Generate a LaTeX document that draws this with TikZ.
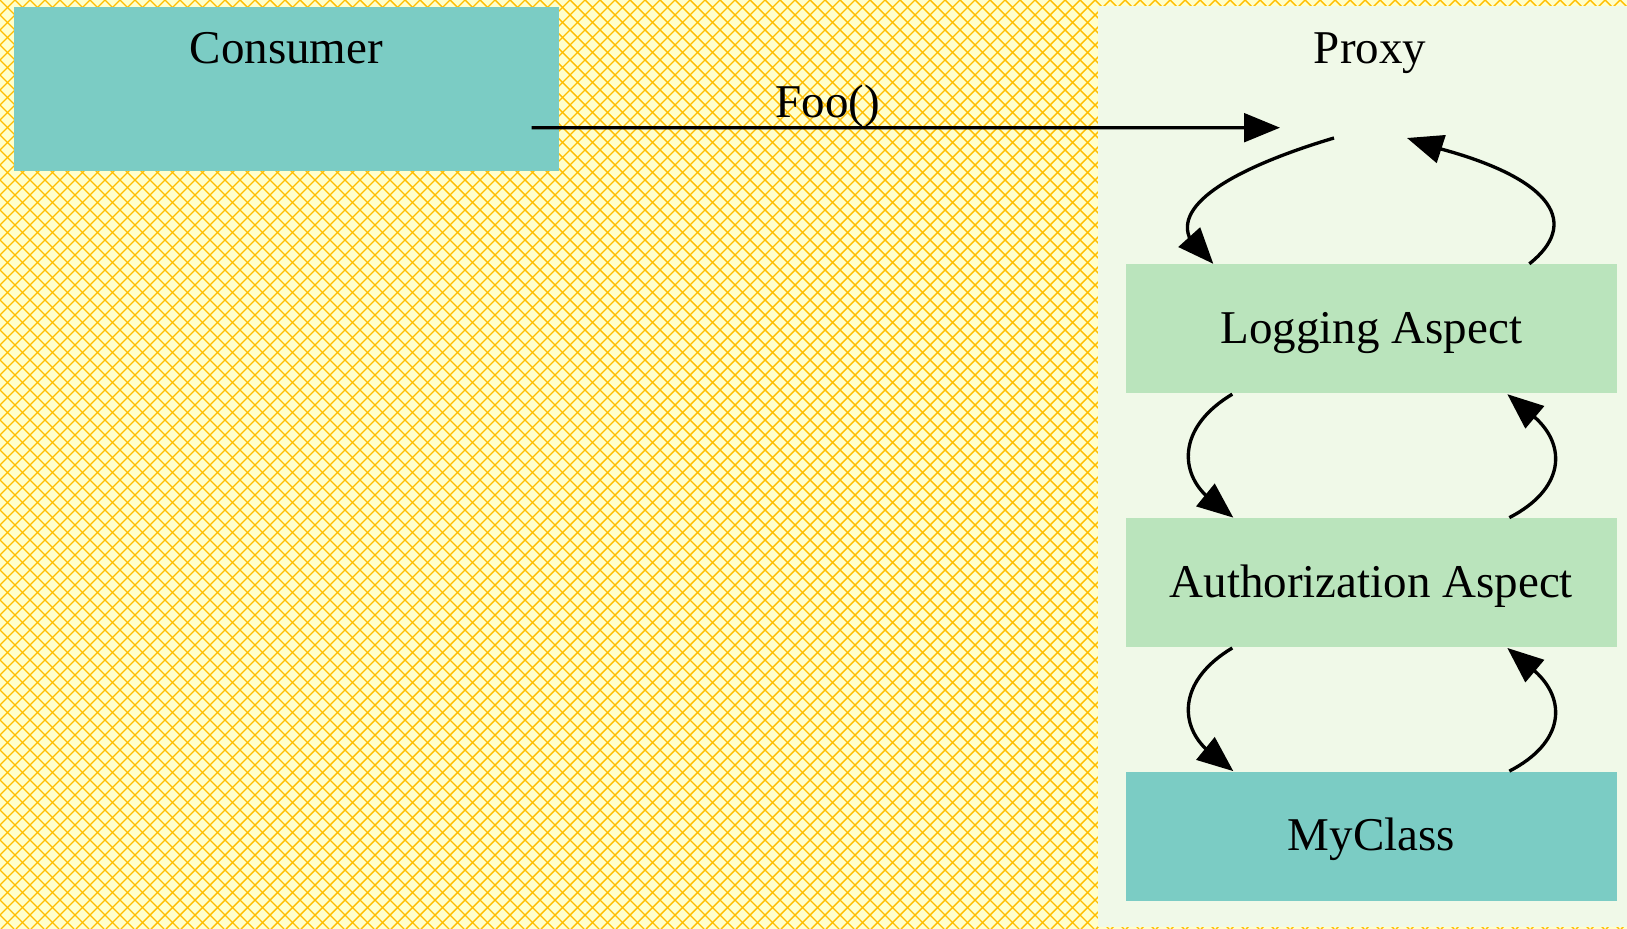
\documentclass[tikz,border=0pt]{standalone}
\usepackage{fontspec}
\setmainfont{Liberation Serif}
\usetikzlibrary{arrows.meta,calc}

% GnBu palette and the hatched background colours
\definecolor{gnbuA}{HTML}{F0F9E8}
\definecolor{gnbuB}{HTML}{BAE4BC}
\definecolor{gnbuC}{HTML}{7BCCC4}
\definecolor{hatchpaper}{HTML}{FFFFCC}
\definecolor{hatchink}{RGB}{255,190,0}

\newcommand\diagfont{\fontsize{14.1pt}{17pt}\selectfont}

\tikzset{
  cluster/.style={rectangle, inner sep=0pt, draw=none},
  lbl/.style={inner sep=0pt, font=\diagfont},
  box/.style={rectangle, inner sep=0pt, draw=none,
    minimum width=147.2pt, minimum height=38.7pt,
    text height=8.7pt, text depth=0pt, font=\diagfont},
  edge/.style={line width=1pt, -{Triangle[length=10.8pt,width=8.6pt]}},
  hatch/.style={draw=hatchink, line width=0.42pt},
}

\begin{document}
% one unit = one pixel of a 1627 x 929 canvas, y growing downwards
\begin{tikzpicture}[x=0.3pt, y=-0.3pt]
\useasboundingbox (0,0) rectangle (1627,929);

% cross-hatched background
\fill[hatchpaper] (0,0) rectangle (1627,929);
\begin{scope}
  \clip (0,0) rectangle (1627,929);
  \draw[hatch] \foreach \k in {-62,...,109} { (15*\k,0) -- ++(929,929) };
  \draw[hatch] \foreach \k in {0,...,171} { (15*\k,0) -- ++(-929,929) };
\end{scope}

% clusters
\node[cluster, fill=gnbuC, minimum width=163.74pt, minimum height=49.17pt]
  (consumer) at (286.4,89.25) {};
\node[lbl, anchor=base] (consumerlabel) at (286.4,63.5) {Consumer};

\node[cluster, fill=gnbuA, minimum width=158.7pt, minimum height=276.3pt]
  (proxy) at (1362.5,466.5) {};
\node[lbl, anchor=base] (proxylabel) at (1370,63.5) {Proxy};

% invisible entry points of the two clusters
\coordinate (consumerpt) at (531.7,127.7);
\coordinate (proxypt) at (1370,133);

% aspect chain
\node[box, fill=gnbuB] (logging) at (1371.3,329) {Logging Aspect};
\node[box, fill=gnbuB] (auth) at (1371.3,582.8) {Authorization Aspect};
\node[box, fill=gnbuC] (myclass) at (1371.3,836.3) {MyClass};

% call into the proxy
\draw[edge] (consumerpt) -- node[pos=0.396, anchor=base, yshift=3.1pt, lbl] (foolabel) {Foo()}
  ($(proxypt)+(-90,-5.3)$);

% proxy -> logging aspect and back
\coordinate (plS) at ($(proxypt)+(-36,5)$);
\coordinate (plT) at ($(logging.north west)+(88,0)$);
\draw[edge] (plS) .. controls ($(plS)+(-84,25)$) and ($(plT)+(-39,-64.6)$)
  .. ($(plT)+(-24,-26.6)$) -- (plT);

\coordinate (lpS) at ($(logging.north west)+(404,0)$);
\coordinate (lpT) at ($(proxypt)+(37,5)$);
\draw[edge] (lpS) .. controls ($(lpS)+(50,-39.6)$) and ($(lpT)+(148,42)$)
  .. ($(lpT)+(34,11)$) -- (lpT);

% calls down the chain and the returns up it
\foreach \upper/\lower in {logging/auth, auth/myclass} {
  \coordinate (dS) at ($(\upper.south west)+(107,0)$);
  \coordinate (dT) at ($(\lower.north west)+(108,0)$);
  \draw[edge] (dS) .. controls ($(dS)+(-53,31.7)$) and ($(dT)+(-54,-48.3)$)
    .. ($(dT)+(-28,-22.8)$) -- (dT);
  \coordinate (uS) at ($(\lower.north west)+(384,0)$);
  \coordinate (uT) at ($(\upper.south west)+(382,0)$);
  \draw[edge] (uS) .. controls ($(uS)+(55,-28.3)$) and ($(uT)+(60,51.7)$)
    .. ($(uT)+(27,22.7)$) -- (uT);
}
\end{tikzpicture}
\end{document}
